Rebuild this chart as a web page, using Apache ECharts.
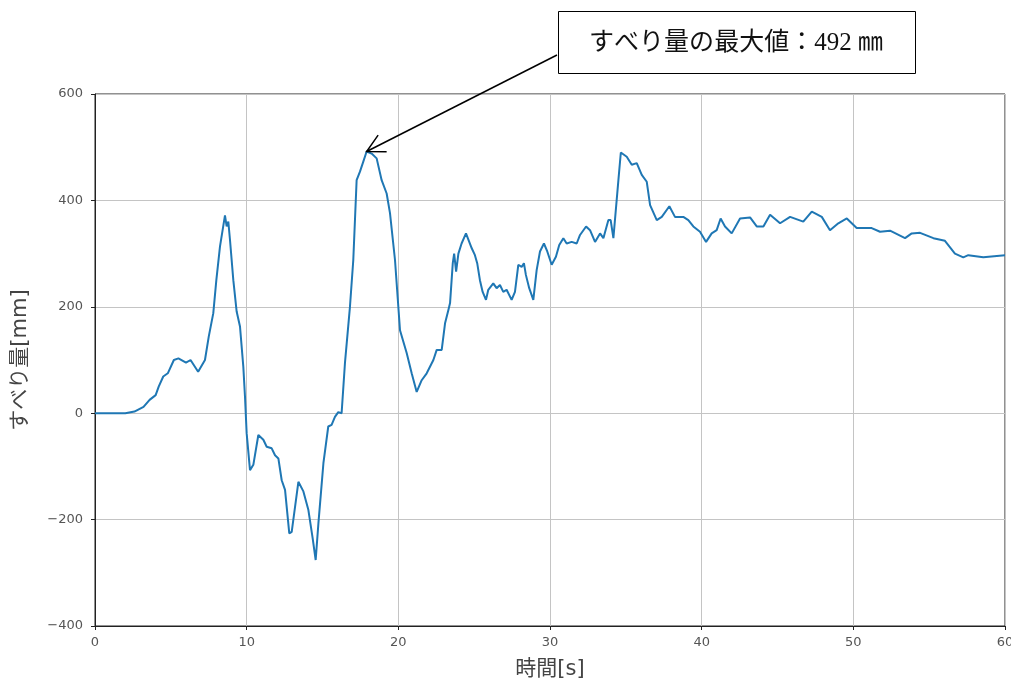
<!DOCTYPE html>
<html>
<head>
<meta charset="utf-8">
<script src="https://cdn.jsdelivr.net/npm/echarts@6/dist/echarts.min.js"></script>
<style>
html,body{margin:0;padding:0;background:#fff;}
#chart{width:1011px;height:680px;}
</style>
</head>
<body>
<div id="chart"></div>
<script>
// Time [s]
const times = [0, 2.0, 2.6, 3.2, 3.6, 4.0, 4.2, 4.5, 4.8, 5.2, 5.5, 6.0, 6.3, 6.8, 7.25, 7.5, 7.8, 8.0, 8.24, 8.57, 8.68, 8.79, 8.9, 9.12, 9.34, 9.56, 9.78, 9.89, 10.0, 10.22, 10.44, 10.77, 11.1, 11.32, 11.65, 11.87, 12.09, 12.31, 12.53, 12.81, 12.97, 13.41, 13.74, 14.07, 14.35, 14.55, 14.73, 15.06, 15.38, 15.6, 15.82, 16.04, 16.26, 16.48, 16.81, 17.03, 17.25, 17.47, 17.69, 17.91, 18.24, 18.57, 18.9, 19.23, 19.45, 19.78, 20.11, 20.55, 20.88, 21.21, 21.54, 21.87, 22.31, 22.53, 22.86, 23.08, 23.3, 23.41, 23.59, 23.68, 23.81, 23.96, 24.17, 24.46, 24.84, 25.05, 25.2, 25.38, 25.56, 25.78, 25.93, 26.26, 26.48, 26.7, 26.92, 27.14, 27.47, 27.69, 27.91, 28.13, 28.28, 28.41, 28.63, 28.9, 29.12, 29.34, 29.6, 29.82, 30.11, 30.39, 30.61, 30.88, 31.1, 31.43, 31.76, 31.98, 32.38, 32.64, 32.97, 33.3, 33.52, 33.85, 34.0, 34.18, 34.51, 34.67, 35.06, 35.39, 35.72, 36.05, 36.38, 36.6, 37.04, 37.37, 37.87, 38.24, 38.79, 39.12, 39.45, 39.89, 40.29, 40.66, 40.99, 41.25, 41.54, 41.98, 42.53, 43.19, 43.63, 44.07, 44.51, 45.17, 45.83, 46.7, 47.26, 47.92, 48.46, 49.01, 49.57, 50.22, 51.21, 51.76, 52.42, 53.41, 53.85, 54.4, 55.28, 56.04, 56.7, 57.25, 57.58, 58.57, 60];
// Slip amount [mm]
const slip = [0, 0, 3, 12, 25, 34, 50, 69, 75, 100, 103, 95, 100, 78, 100, 144, 188, 250, 313, 372, 351, 360, 326, 250, 191, 163, 87, 31, -38, -107, -97, -41, -50, -63, -66, -79, -85, -126, -144, -226, -223, -129, -147, -182, -235, -276, -207, -94, -25, -22, -7, 2, 0, 94, 200, 288, 438, 454, 473, 492, 488, 479, 438, 413, 376, 288, 156, 113, 75, 40, 62, 75, 100, 119, 119, 169, 194, 207, 282, 300, 266, 300, 319, 338, 310, 297, 282, 250, 228, 213, 232, 244, 235, 241, 228, 232, 213, 228, 279, 275, 282, 260, 235, 213, 269, 304, 319, 304, 279, 294, 316, 329, 319, 322, 319, 335, 351, 344, 322, 338, 329, 363, 363, 329, 438, 490, 482, 467, 470, 448, 435, 391, 363, 369, 389, 369, 369, 363, 351, 341, 322, 338, 344, 366, 351, 338, 366, 368, 351, 351, 373, 357, 369, 360, 379, 369, 344, 357, 366, 348, 348, 341, 343, 329, 338, 339, 329, 324, 300, 293, 297, 293, 297];
const xTicks = [0, 10, 20, 30, 40, 50, 60];
const yTicks = [-400, -200, 0, 200, 400, 600];
const maxPoint = [17.91, 492];
const annotationText = 'すべり量の最大値：492 ㎜';
const xName = '時間[s]';
const yName = 'すべり量[mm]';

const chart = echarts.init(document.getElementById('chart'));
const data = times.map((t, i) => [t, slip[i]]);
const fmt = v => String(v).replace('-', '\u2212');
const nameStyle = {fontSize: 21, color: '#444', fontFamily: 'DejaVu Sans, Noto Sans CJK JP'};

chart.setOption({
  animation: false,
  grid: {left: 95, right: 6, top: 94, bottom: 54, show: true, borderColor: '#222', borderWidth: 1, outerBoundsMode: 'none', containLabel: false},
  xAxis: {
    type: 'value', min: xTicks[0], max: xTicks[xTicks.length - 1], interval: 10,
    name: xName, nameLocation: 'middle', nameGap: 33, nameTextStyle: nameStyle,
    axisLine: {show: true, onZero: false, lineStyle: {color: '#222', width: 1}},
    axisTick: {show: true, inside: false, length: 4, lineStyle: {color: '#222'}},
    axisLabel: {color: '#555', fontSize: 13, margin: 10, fontFamily: 'DejaVu Sans', formatter: fmt},
    splitLine: {show: true, lineStyle: {color: '#c4c4c4', width: 1}}
  },
  yAxis: {
    type: 'value', min: yTicks[0], max: yTicks[yTicks.length - 1], interval: 200,
    name: yName, nameLocation: 'middle', nameGap: 64, nameRotate: 90, nameTextStyle: nameStyle,
    axisLine: {show: true, onZero: false, lineStyle: {color: '#222', width: 1}},
    axisTick: {show: true, inside: false, length: 4, lineStyle: {color: '#222'}},
    axisLabel: {color: '#555', fontSize: 13, margin: 12, fontFamily: 'DejaVu Sans', formatter: fmt},
    splitLine: {show: true, lineStyle: {color: '#c4c4c4', width: 1}}
  },
  series: [{
    type: 'line', data: data, showSymbol: false, symbol: 'none',
    lineStyle: {color: '#1f77b4', width: 2}
  }]
});

// Annotation box and arrow pointing to maximum value
const tip = chart.convertToPixel({gridIndex: 0}, maxPoint);
const start = [557, 55];
const ang = Math.atan2(start[1] - tip[1], start[0] - tip[0]);
const headLen = 20, spread = 28 * Math.PI / 180;
const h1 = [tip[0] + headLen * Math.cos(ang + spread), tip[1] + headLen * Math.sin(ang + spread)];
const h2 = [tip[0] + headLen * Math.cos(ang - spread), tip[1] + headLen * Math.sin(ang - spread)];
chart.setOption({
  graphic: [
    {type: 'rect', shape: {x: 558.5, y: 11.5, width: 357, height: 62}, style: {fill: '#fff', stroke: '#000', lineWidth: 1}, z: 100},
    {type: 'text', x: 736, y: 43, style: {text: annotationText, fontSize: 25, fontFamily: 'Liberation Serif, Noto Sans CJK JP', fill: '#111', align: 'center', verticalAlign: 'middle'}, z: 101},
    {type: 'polyline', shape: {points: [start, tip]}, style: {stroke: '#000', lineWidth: 1.5}, z: 100},
    {type: 'polyline', shape: {points: [h1, tip, h2]}, style: {stroke: '#000', lineWidth: 1.5, fill: null}, z: 100}
  ]
});
</script>
</body>
</html>
